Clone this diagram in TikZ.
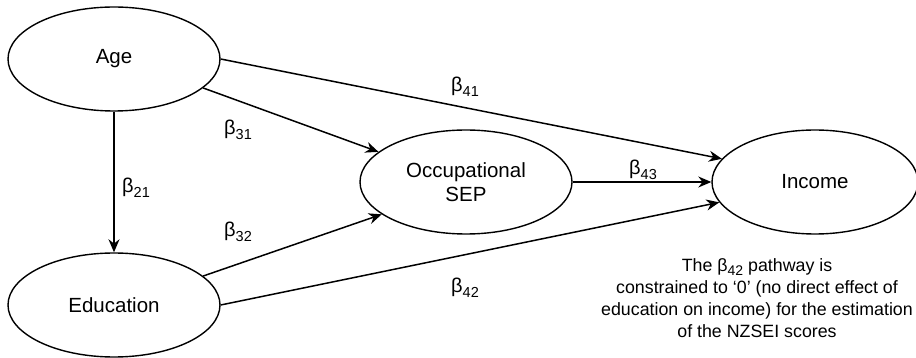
\documentclass[tikz,border=0pt]{standalone}
\usepackage{fontspec}
\setmainfont{Liberation Sans}
\usetikzlibrary{arrows.meta,shapes.geometric}
\newcommand{\bsub}[1]{β\raisebox{-4.5pt}{\fontsize{14.5}{14}\selectfont #1}}
\tikzset{
  var/.style={draw, ellipse, line width=1.4pt, inner sep=0pt, minimum width=212pt, minimum height=104pt, align=center, font=\fontsize{20.5}{24}\selectfont},
  arr/.style={line width=1.5pt, -{Stealth[length=13pt,width=11pt]}},
  coef/.style={font=\fontsize{20}{24}\selectfont, inner sep=0pt},
  note/.style={align=center, font=\fontsize{17.8}{22}\selectfont, inner sep=0pt}
}
\begin{document}
\begin{tikzpicture}[x=1pt,y=-1pt]
\useasboundingbox (0,0) rectangle (916,358);
\node[var] (age) at (114,59) {Age};
\node[var] (edu) at (114,305) {Education};
\node[var] (occ) at (466,182) {Occupational\\SEP};
\node[var, minimum width=206pt] (inc) at (815,182) {Income};
\draw[arr] (age.south) -- (edu.north);
\draw[arr] (age.-18) -- (occ.161);
\draw[arr] (age.east) -- (inc.166);
\draw[arr] (occ.east) -- (inc.west);
\draw[arr] (edu.18) -- (occ.-159);
\draw[arr] (edu.east) -- (inc.-168);
\node[coef] (b41) at (465,87) {\bsub{41}};
\node[coef] (b31) at (238,130) {\bsub{31}};
\node[coef] (b21) at (136,188) {\bsub{21}};
\node[coef] (b43) at (643,170) {\bsub{43}};
\node[coef] (b32) at (238,232) {\bsub{32}};
\node[coef] (b42) at (465,288) {\bsub{42}};
\node[note] (txt) at (757,298) {The β\raisebox{-4pt}{\fontsize{14}{14}\selectfont 42} pathway is\\constrained to ‘0’ (no direct effect of\\education on income) for the estimation\\of the NZSEI scores};
\end{tikzpicture}
\end{document}
